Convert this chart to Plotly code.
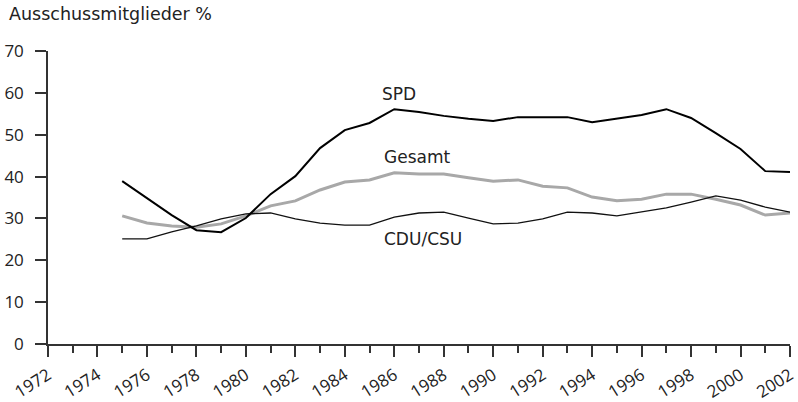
import plotly.graph_objects as go

years = list(range(1975, 2003))
spd = [38.9, 34.9, 30.8, 27.2, 26.7, 30.1, 35.8, 40.1, 46.8, 51.1, 52.8, 56.1, 55.4, 54.5,
       53.8, 53.3, 54.2, 54.2, 54.2, 53.0, 53.8, 54.7, 56.1, 54.0, 50.4, 46.6, 41.3, 41.1]
gesamt = [30.6, 28.9, 28.2, 27.9, 28.7, 30.6, 33.0, 34.2, 36.8, 38.7, 39.2, 40.9, 40.6, 40.6,
          39.7, 38.9, 39.2, 37.7, 37.3, 35.1, 34.2, 34.6, 35.8, 35.8, 34.6, 33.2, 30.8, 31.3]
cdu = [25.1, 25.1, 26.8, 28.2, 29.9, 31.1, 31.3, 29.9, 28.9, 28.4, 28.4, 30.3, 31.3, 31.5,
       30.1, 28.7, 28.9, 29.9, 31.5, 31.3, 30.6, 31.5, 32.5, 33.9, 35.4, 34.4, 32.7, 31.5]
x_ticks = list(range(1972, 2003, 2))
y_ticks = list(range(0, 71, 10))

FONT = "Open Sans"
LFONT = "DejaVu Sans"
TXT = "#222222"

fig = go.Figure()
fig.add_trace(go.Scatter(x=years, y=gesamt, mode="lines", line=dict(color="#a8a8a8", width=3), name="Gesamt"))
fig.add_trace(go.Scatter(x=years, y=cdu, mode="lines", line=dict(color="#111111", width=1.3), name="CDU/CSU"))
fig.add_trace(go.Scatter(x=years, y=spd, mode="lines", line=dict(color="#000000", width=2), name="SPD"))

fig.add_annotation(x=1986.2, y=59.7, text="SPD", showarrow=False, xanchor="center", yanchor="middle",
                   font=dict(family=LFONT, size=17, color=TXT))
fig.add_annotation(x=1986.9, y=44.7, text="Gesamt", showarrow=False, xanchor="center", yanchor="middle",
                   font=dict(family=LFONT, size=17, color=TXT))
fig.add_annotation(x=1987.15, y=25.0, text="CDU/CSU", showarrow=False, xanchor="center", yanchor="middle",
                   font=dict(family=LFONT, size=17, color=TXT))
fig.add_annotation(xref="paper", yref="paper", x=-0.055, y=1.085, text="Ausschussmitglieder %",
                   showarrow=False, xanchor="left", yanchor="bottom",
                   font=dict(family=LFONT, size=17.5, color=TXT))

fig.update_layout(
    width=798, height=402,
    margin=dict(l=48, r=8, t=51, b=58, autoexpand=False),
    plot_bgcolor="white", paper_bgcolor="white",
    showlegend=False,
    font=dict(family=FONT, size=16, color=TXT),
)
fig.update_xaxes(
    range=[1972, 2002], tickvals=x_ticks, ticktext=[str(v) for v in x_ticks],
    tickangle=-32, ticks="outside", ticklen=11, tickwidth=1.5, tickcolor="#333333",
    showline=True, linecolor="#333333", linewidth=1.5, showgrid=False, zeroline=False,
    minor=dict(dtick=1, tick0=1972, ticks="outside", ticklen=7, tickwidth=1.5, tickcolor="#333333", showgrid=False),
    tickfont=dict(family=FONT, size=17, color=TXT), automargin=False, ticklabelstandoff=2,
)
fig.update_yaxes(
    range=[0, 70], tickvals=y_ticks, ticks="outside", ticklen=11, tickwidth=1.5, tickcolor="#333333",
    showline=True, linecolor="#333333", linewidth=1.5, showgrid=False, zeroline=False,
    tickfont=dict(family=FONT, size=17, color=TXT), automargin=False, ticklabelstandoff=8,
)

fig.write_html("out.html", config={"displayModeBar": False},
               post_script="document.body.style.margin='0';document.body.style.padding='0';")
